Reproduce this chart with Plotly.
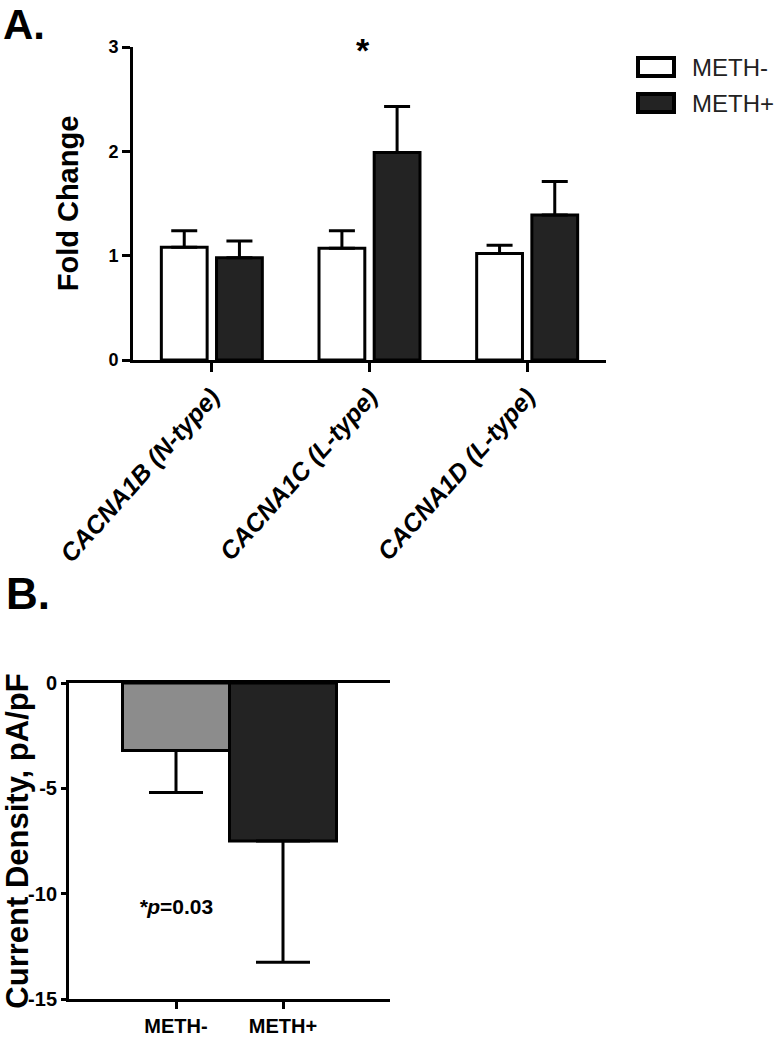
import plotly.graph_objects as go

# ---- Panel A data ----
genes = ["CACNA1B (N-type)", "CACNA1C (L-type)", "CACNA1D (L-type)"]
meth_neg = [1.08, 1.07, 1.02]
meth_neg_err = [0.16, 0.17, 0.08]
meth_pos = [0.98, 1.99, 1.39]
meth_pos_err = [0.16, 0.44, 0.32]
a_tickvals = [0, 1, 2, 3]

# ---- Panel B data ----
groups_b = ["METH-", "METH+"]
current_density = [-3.2, -7.5]
current_density_err = [2.0, 5.75]
b_tickvals = [0, -5, -10, -15]
b_ticktext = ["0", "-5", "-10", "-15"]

FONT = "Liberation Sans, Arial, sans-serif"
W, H = 777, 1038


def px(x):
    return x / W


def py(y):
    return 1 - y / H


fig = go.Figure()

fig.add_trace(go.Bar(
    x=genes, y=meth_neg, name="METH-",
    marker=dict(color="white", line=dict(color="black", width=3)),
    error_y=dict(type="data", symmetric=False, array=meth_neg_err,
                 arrayminus=[0] * len(meth_neg), thickness=3, width=13, color="black"),
    xaxis="x", yaxis="y", showlegend=False,
))
fig.add_trace(go.Bar(
    x=genes, y=meth_pos, name="METH+",
    marker=dict(color="#232323", line=dict(color="black", width=3)),
    error_y=dict(type="data", symmetric=False, array=meth_pos_err,
                 arrayminus=[0] * len(meth_pos), thickness=3, width=13, color="black"),
    xaxis="x", yaxis="y", showlegend=False,
))

fig.add_trace(go.Bar(
    x=groups_b, y=current_density, width=1,
    marker=dict(color=["#8c8c8c", "#232323"], line=dict(color="black", width=3)),
    error_y=dict(type="data", symmetric=False, array=[0] * len(current_density),
                 arrayminus=current_density_err, thickness=3, width=27, color="black"),
    xaxis="x2", yaxis="y2", showlegend=False,
))

axis_common = dict(showline=True, linecolor="black", linewidth=3, ticks="outside",
                   tickcolor="black", tickwidth=3, showgrid=False, zeroline=False,
                   automargin=False)

fig.update_layout(
    width=W, height=H,
    margin=dict(l=0, r=0, t=0, b=0, autoexpand=False),
    paper_bgcolor="white", plot_bgcolor="white",
    barmode="group", bargap=0.3, bargroupgap=0.17,
    font=dict(family=FONT, color="black"),
    xaxis=dict(domain=[px(133), px(606)], anchor="y", range=[-0.5, 2.5],
               ticklen=9, tickangle=-48,
               tickfont=dict(family=FONT, size=25, weight="bold", style="italic"),
               **axis_common),
    yaxis=dict(domain=[py(360), py(47)], anchor="x", range=[0, 3], tickvals=a_tickvals,
               ticklen=8, tickfont=dict(family=FONT, size=18, weight="bold"),
               title=dict(text="Fold Change", font=dict(family=FONT, size=29, weight="bold"),
                          standoff=22),
               **axis_common),
    xaxis2=dict(domain=[px(69), px(390)], anchor="y2", range=[-1, 2], mirror=True,
                ticklen=7, tickfont=dict(family=FONT, size=20, weight="bold"),
                **axis_common),
    yaxis2=dict(domain=[py(999), py(683)], anchor="x2", range=[-15, 0],
                tickvals=b_tickvals, ticktext=b_ticktext, ticklen=5,
                tickfont=dict(family=FONT, size=20, weight="bold"),
                title=dict(text="Current Density, pA/pF",
                           font=dict(family=FONT, size=31, weight="bold"), standoff=10),
                **axis_common),
)

# Legend (drawn manually to match large swatches)
fig.add_shape(type="rect", xref="paper", yref="paper", x0=px(638), x1=px(674),
              y0=py(76), y1=py(58), line=dict(color="black", width=4), fillcolor="white")
fig.add_shape(type="rect", xref="paper", yref="paper", x0=px(638), x1=px(674),
              y0=py(112), y1=py(94), line=dict(color="black", width=4), fillcolor="#232323")
fig.add_annotation(xref="paper", yref="paper", x=px(690), y=py(67), text="METH-",
                   showarrow=False, xanchor="left", yanchor="middle",
                   font=dict(family=FONT, size=24, color="#222222"))
fig.add_annotation(xref="paper", yref="paper", x=px(690), y=py(103), text="METH+",
                   showarrow=False, xanchor="left", yanchor="middle",
                   font=dict(family=FONT, size=24, color="#222222"))

# Panel labels
fig.add_annotation(xref="paper", yref="paper", x=px(2), y=1, text="<b>A.</b>",
                   showarrow=False, xanchor="left", yanchor="top", borderpad=0,
                   font=dict(family=FONT, size=42, color="black"))
fig.add_annotation(xref="paper", yref="paper", x=px(4), y=py(593), text="<b>B.</b>",
                   showarrow=False, xanchor="left", yanchor="middle",
                   font=dict(family=FONT, size=44, color="black"))

# Significance marks
fig.add_annotation(xref="x", yref="y", x=genes[1], y=2.97, xshift=-7, text="<b>*</b>",
                   showarrow=False, xanchor="center", yanchor="middle",
                   font=dict(family=FONT, size=34, color="black"))
fig.add_annotation(xref="x2", yref="y2", x=groups_b[0], y=-10.6, text="<i>*p</i>=0.03",
                   showarrow=False, xanchor="center", yanchor="middle",
                   font=dict(family=FONT, size=21, color="black", weight="bold"))

fig.write_html("out.html", config={"displayModeBar": False},
               post_script="document.body.style.margin='0';")
